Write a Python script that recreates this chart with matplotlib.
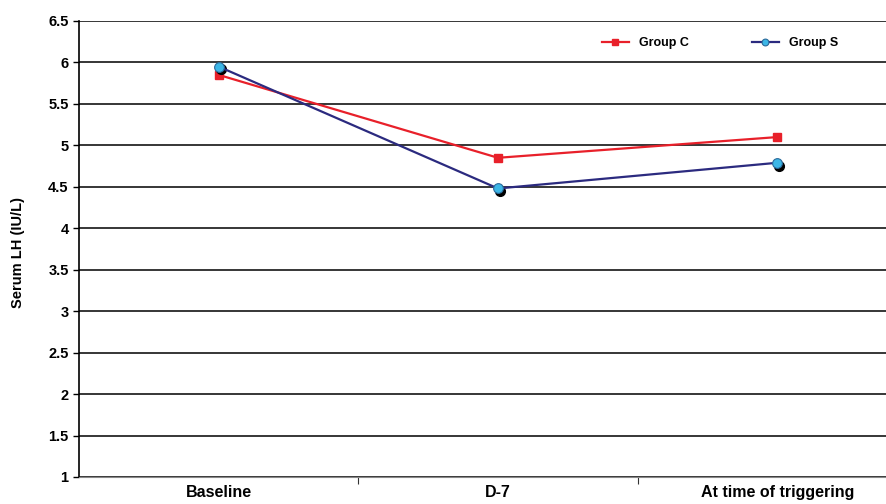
import matplotlib
matplotlib.use("Agg")
import matplotlib.pyplot as plt
import matplotlib.transforms as mtransforms

categories = ["Baseline", "D-7", "At time of triggering"]
group_c = [5.85, 4.85, 5.10]
group_s = [5.95, 4.48, 4.79]
yticks = [1, 1.5, 2, 2.5, 3, 3.5, 4, 4.5, 5, 5.5, 6, 6.5]

plt.rcParams['font.family'] = ['Liberation Sans', 'DejaVu Sans']

fig = plt.figure(figsize=(8.86, 5.04), dpi=100)
ax = fig.add_axes([79/886, 27/504, (917-79)/886, (477-21)/504])

x = list(range(len(categories)))
ax.set_xlim(-0.5, 2.5)
ax.set_ylim(1, 6.5)

for yv in yticks:
    ax.axhline(yv, color='black', lw=1.1, zorder=1)

ax.plot(x, group_c, color='#e8202a', lw=1.6, marker='s', ms=6,
        markerfacecolor='#e8202a', markeredgecolor='#e8202a', label='Group C', zorder=3)
shadow = mtransforms.offset_copy(ax.transData, fig=fig, x=1.5, y=-2, units='points')
ax.plot(x, group_s, linestyle='none', marker='o', ms=7, color='black',
        transform=shadow, zorder=3)
ax.plot(x, group_s, color='#2b2a7f', lw=1.6, marker='o', ms=7,
        markerfacecolor='#3cb6e6', markeredgecolor='#2b6a9a', markeredgewidth=0.8,
        label='Group S', zorder=4)

ax.set_xticks([0.5, 1.5])
ax.set_xticklabels([])
ax.tick_params(axis='x', length=5, color='#333333', direction='out')
for xi, lab in zip(x, categories):
    ax.text(xi, -0.018, lab, transform=ax.get_xaxis_transform(), ha='center', va='top',
            fontsize=11.5, fontweight='bold')

ax.set_yticks(yticks)
ax.set_yticklabels([f"{v:g}" for v in yticks], fontsize=10.5, fontweight='bold')
ax.tick_params(axis='y', length=4, width=1)

ax.spines['top'].set_visible(False)
ax.spines['right'].set_visible(False)
ax.spines['left'].set_color('black')
ax.spines['left'].set_linewidth(1.2)
ax.spines['bottom'].set_color('#888888')

fig.text(18/886, 0.5, "Serum LH (IU/L)", rotation=90, ha='center', va='center',
         fontsize=10.5, fontweight='bold')

leg = ax.legend(loc='center', bbox_to_anchor=((720-79)/(917-79), (477-43)/(477-21)),
                ncol=2, frameon=False, fontsize=9, handlelength=2.2, columnspacing=5,
                markerscale=0.7)
for t in leg.get_texts():
    t.set_fontweight('bold')

fig.savefig("out.png", dpi=100)
